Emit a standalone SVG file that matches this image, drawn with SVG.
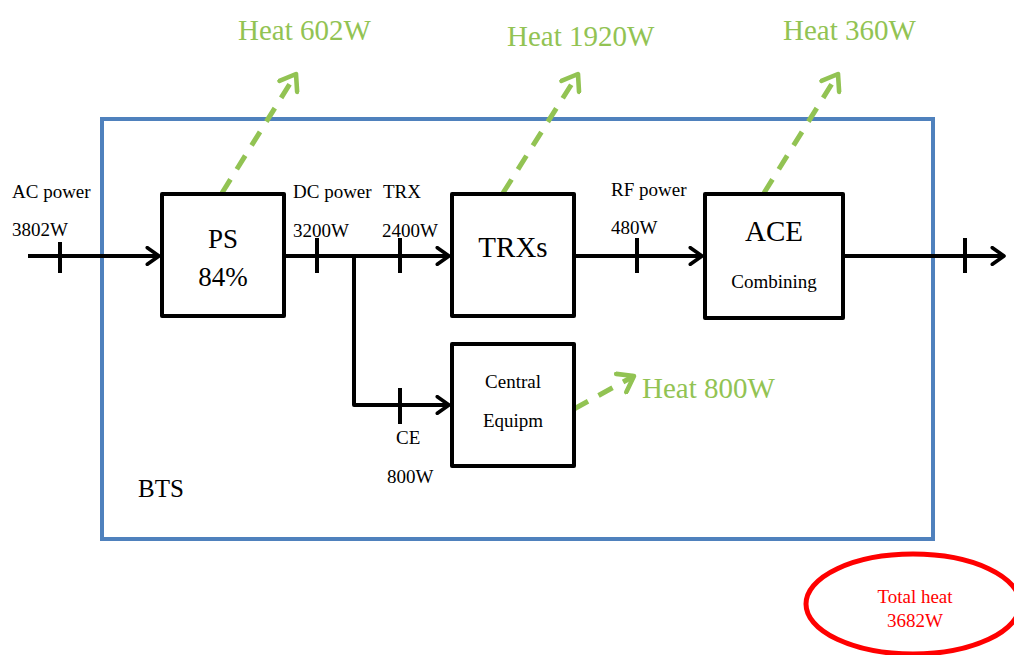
<svg xmlns="http://www.w3.org/2000/svg" width="1014" height="655" viewBox="0 0 1014 655">
<defs>
<marker id="ah" viewBox="0 0 12 12" refX="10" refY="6" markerWidth="5" markerHeight="5" markerUnits="strokeWidth" orient="auto">
<polyline points="3,1 10,6 3,11" fill="none" stroke="#000" stroke-width="2.2" stroke-linecap="round" stroke-linejoin="round"/>
</marker>
<marker id="gh" viewBox="0 0 12 12" refX="10" refY="6" markerWidth="5" markerHeight="5" markerUnits="strokeWidth" orient="auto">
<polyline points="3,1 10,6 3,11" fill="none" stroke="#92C353" stroke-width="2.2" stroke-linecap="round" stroke-linejoin="round"/>
</marker>
</defs>
<style>
.box{fill:#fff;stroke:#000;stroke-width:4;stroke-linejoin:round}
.wire{fill:none;stroke:#000;stroke-width:4;stroke-linejoin:round}
.tick{stroke:#000;stroke-width:4}
.heat{fill:none;stroke:#92C353;stroke-width:5;stroke-dasharray:16,12}
.t{font-family:"Liberation Serif",serif;fill:#000}
.s{font-size:19px}
.g{font-family:"Liberation Serif",serif;fill:#92C353;font-size:29px}
.r{font-family:"Liberation Serif",serif;fill:#FF0000;font-size:19px;text-anchor:middle}
</style>
<rect width="1014" height="655" fill="#fff"/>
<g id="bts">
<rect x="102" y="119" width="831" height="420" fill="none" stroke="#4F81BD" stroke-width="4"/>
<text class="t" x="138" y="497" font-size="25">BTS</text>
</g>
<g id="connectors">
<line class="wire" x1="28" y1="256" x2="159" y2="256" marker-end="url(#ah)"/>
<line class="wire" x1="284" y1="256" x2="449" y2="256" marker-end="url(#ah)"/>
<polyline class="wire" points="354,256 354,405 449,405" marker-end="url(#ah)"/>
<line class="wire" x1="574" y1="256" x2="702" y2="256" marker-end="url(#ah)"/>
<line class="wire" x1="843" y1="256" x2="1004" y2="256" marker-end="url(#ah)"/>
<line class="tick" x1="60" y1="242" x2="60" y2="273"/>
<line class="tick" x1="317" y1="238" x2="317" y2="273"/>
<line class="tick" x1="400" y1="238" x2="400" y2="273"/>
<line class="tick" x1="400" y1="388" x2="400" y2="424"/>
<line class="tick" x1="637" y1="238" x2="637" y2="273"/>
<line class="tick" x1="965" y1="238" x2="965" y2="273"/>
<line class="heat" x1="222" y1="193" x2="296" y2="74" marker-end="url(#gh)"/>
<line class="heat" x1="503" y1="193" x2="578" y2="74" marker-end="url(#gh)"/>
<line class="heat" x1="764" y1="193" x2="838" y2="74" marker-end="url(#gh)"/>
<line class="heat" x1="574" y1="409" x2="634" y2="376" marker-end="url(#gh)"/>
</g>
<g id="labels">
<text class="t s" x="12" y="198">AC power</text>
<text class="t s" x="12" y="236">3802W</text>
<text class="t s" x="293" y="198">DC power</text>
<text class="t s" x="293" y="237">3200W</text>
<text class="t s" x="383" y="198">TRX</text>
<text class="t s" x="382" y="237">2400W</text>
<text class="t s" x="611" y="196">RF power</text>
<text class="t s" x="611" y="234">480W</text>
<text class="t s" x="396" y="444">CE</text>
<text class="t s" x="387" y="483">800W</text>
</g>
<g id="ps">
<rect class="box" x="162" y="194" width="122" height="122"/>
<text class="t" x="223" y="248" font-size="27" text-anchor="middle">PS</text>
<text class="t" x="223" y="286" font-size="27" text-anchor="middle">84%</text>
</g>
<g id="trxs">
<rect class="box" x="452" y="194" width="122" height="122"/>
<text class="t" x="513" y="257" font-size="29" text-anchor="middle">TRXs</text>
</g>
<g id="ace">
<rect class="box" x="705" y="194" width="138" height="124"/>
<text class="t" x="774" y="241" font-size="29" text-anchor="middle">ACE</text>
<text class="t s" x="774" y="288" text-anchor="middle">Combining</text>
</g>
<g id="ce">
<rect class="box" x="452" y="344" width="122" height="122"/>
<text class="t s" x="513" y="388" text-anchor="middle">Central</text>
<text class="t s" x="513" y="427" text-anchor="middle">Equipm</text>
</g>
<g id="heat-labels">
<text class="g" x="238" y="40">Heat 602W</text>
<text class="g" x="507" y="46">Heat 1920W</text>
<text class="g" x="783" y="40">Heat 360W</text>
<text class="g" x="642" y="398">Heat 800W</text>
</g>
<g id="total">
<ellipse cx="913" cy="604" rx="107" ry="50" fill="none" stroke="#FF0000" stroke-width="5"/>
<text class="r" x="915" y="603">Total heat</text>
<text class="r" x="915" y="627">3682W</text>
</g>
</svg>
